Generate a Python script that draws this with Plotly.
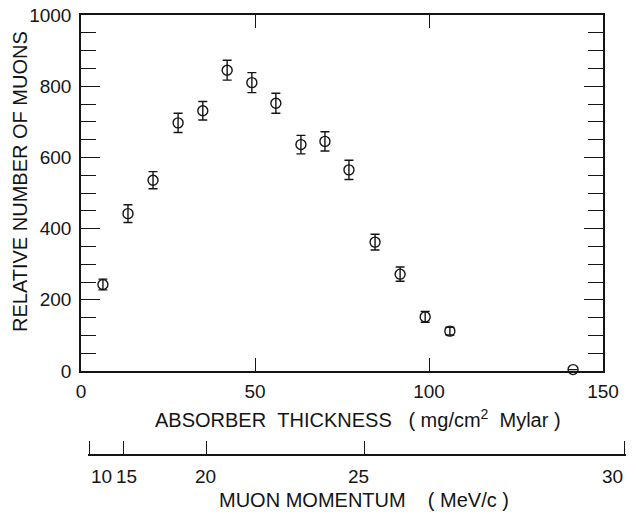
import plotly.graph_objects as go

# ---- data ----
thickness = [6.3, 13.5, 20.7, 27.9, 35.0, 42.0, 49.1, 56.0, 63.2, 70.1, 77.0, 84.5, 91.7, 98.9, 106.0, 141.4]
muons = [243, 442, 536, 697, 731, 845, 810, 752, 636, 645, 565, 362, 272, 152, 112, 4]
muon_err = [15, 25, 24, 27, 26, 28, 28, 28, 26, 27, 27, 22, 20, 15, 11, None]

x_ticks = [0, 50, 100, 150]
y_major = [0, 200, 400, 600, 800, 1000]

momentum_labels = ["10", "15", "20", "25", "30"]
momentum_at_thickness = [2.3, 12.1, 36.2, 81.6, 156.3]

# ---- layout geometry (pixels) ----
W_FIG, H_FIG = 636, 514
PL, PR, PT, PB = 81, 630, 15, 458          # paper box
AX_R, AX_B = 603, 371                      # main plot right / bottom
MOM_Y = 455                                # momentum axis line
MOM_LABEL_Y = 476
PW, PH = PR - PL, PB - PT
XRANGE = [0, 150]
scale = (AX_R - PL) / (XRANGE[1] - XRANGE[0])


def px(x):
    return (x - PL) / PW


def py(y):
    return (PB - y) / PH


FONT = "Liberation Sans, Arial, Helvetica, sans-serif"
INK = "#151515"
nb = "\u00a0"

fig = go.Figure()
fig.add_trace(go.Scatter(
    x=thickness, y=muons,
    mode="markers",
    marker=dict(symbol="circle-open", size=10, color=INK, line=dict(width=1.4, color=INK)),
    error_y=dict(type="data", array=muon_err, visible=True, color=INK, thickness=1.4, width=4.5),
    cliponaxis=False,
    showlegend=False,
))
# placeholder trace so the momentum axis is drawn
fig.add_trace(go.Scatter(x=[momentum_at_thickness[0]], y=[None], xaxis="x2", yaxis="y",
                         mode="markers", showlegend=False, hoverinfo="skip"))

pad = 0.3
m_lo, m_hi = momentum_at_thickness[0] - pad, momentum_at_thickness[-1] + pad
d_lo = px(PL + (m_lo - XRANGE[0]) * scale)
d_hi = px(PL + (m_hi - XRANGE[0]) * scale)

# momentum tick labels, placed on the momentum axis scale
label_anchor = ["left", "center", "center", "center", "right"]
label_shift = [0, 3, -1, -6, 0]
mom_annotations = [
    dict(text=t, x=v, xref="x2", y=py(MOM_LABEL_Y), yref="paper",
         xanchor=a, yanchor="middle", xshift=s, showarrow=False, font=dict(size=19))
    for t, v, a, s in zip(momentum_labels, momentum_at_thickness, label_anchor, label_shift)
]

fig.update_layout(
    width=W_FIG, height=H_FIG,
    margin=dict(l=PL, r=W_FIG - PR, t=PT, b=H_FIG - PB, pad=0, autoexpand=False),
    paper_bgcolor="white", plot_bgcolor="rgba(0,0,0,0)",
    font=dict(family=FONT, size=19, color=INK),
    xaxis=dict(
        domain=[0, px(AX_R)], range=XRANGE, automargin=False,
        tickvals=x_ticks, ticks="inside", ticklen=13, tickwidth=1.4, tickcolor=INK,
        showline=True, linewidth=1.5, linecolor=INK, mirror="ticks",
        showgrid=False, zeroline=False, ticklabelstandoff=2, tickangle=0,
        tickfont=dict(size=19),
    ),
    yaxis=dict(
        domain=[py(AX_B), 1], range=[0, 1000], automargin=False,
        tickvals=y_major, ticks="inside", ticklen=19, tickwidth=1.4, tickcolor=INK,
        minor=dict(dtick=50, ticks="inside", ticklen=15, tickwidth=1.4, tickcolor=INK),
        showline=True, linewidth=1.5, linecolor=INK, mirror="ticks",
        showgrid=False, zeroline=False, ticklabelstandoff=4,
        tickfont=dict(size=19),
    ),
    xaxis2=dict(
        domain=[d_lo, d_hi], range=[m_lo, m_hi], anchor="free", position=py(MOM_Y),
        side="bottom", automargin=False, showticklabels=False,
        tickvals=momentum_at_thickness,
        ticks="inside", ticklen=13, tickwidth=1.4, tickcolor=INK,
        showline=True, linewidth=1.5, linecolor=INK,
        showgrid=False, zeroline=False,
    ),
    annotations=mom_annotations + [
        dict(text="ABSORBER" + nb * 2 + "THICKNESS" + nb * 3 + "(" + nb + "mg/cm<sup>2</sup>" + nb * 2 + "Mylar" + nb + ")",
             x=px(358), y=py(418), xref="paper", yref="paper",
             xanchor="center", yanchor="middle", showarrow=False, font=dict(size=20)),
        dict(text="MUON" + nb + "MOMENTUM" + nb * 4 + "(" + nb + "MeV/c" + nb + ")",
             x=px(364), y=py(500), xref="paper", yref="paper",
             xanchor="center", yanchor="middle", showarrow=False, font=dict(size=20)),
        dict(text="RELATIVE NUMBER OF MUONS",
             x=px(20), y=py(182), xref="paper", yref="paper", textangle=-90,
             xanchor="center", yanchor="middle", showarrow=False, font=dict(size=20)),
    ],
)

fig.write_html("out.html")
